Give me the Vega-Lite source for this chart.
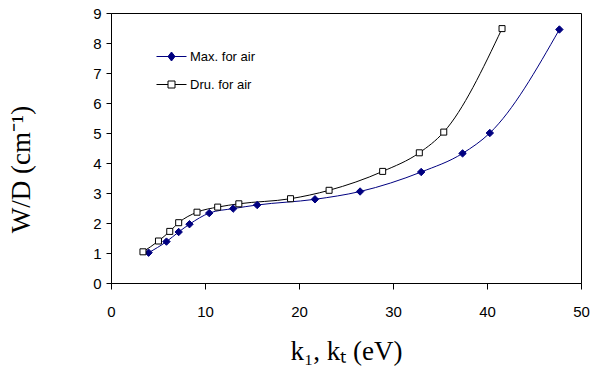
{
  "$schema": "https://vega.github.io/schema/vega-lite/v6.json",
  "width": 470,
  "height": 270,
  "autosize": {"type": "none"},
  "padding": {"left": 111, "top": 13, "right": 15, "bottom": 93},
  "background": "white",
  "config": {
    "view": {"stroke": "#000000", "strokeWidth": 1},
    "axis": {
      "grid": false,
      "domainColor": "#000000",
      "tickColor": "#000000",
      "labelColor": "#000000",
      "titleColor": "#000000",
      "labelFont": "Liberation Sans",
      "labelFontSize": 15,
      "titleFont": "Liberation Serif",
      "titleFontWeight": "normal",
      "labelFlush": false
    }
  },
  "data": {
    "values": [
      {"series": "Max. for air", "k": 4.0, "wd": 1.01},
      {"series": "Max. for air", "k": 5.9, "wd": 1.38},
      {"series": "Max. for air", "k": 7.2, "wd": 1.70},
      {"series": "Max. for air", "k": 8.35, "wd": 1.96},
      {"series": "Max. for air", "k": 10.45, "wd": 2.33},
      {"series": "Max. for air", "k": 13.0, "wd": 2.48},
      {"series": "Max. for air", "k": 15.55, "wd": 2.60},
      {"series": "Max. for air", "k": 21.7, "wd": 2.79},
      {"series": "Max. for air", "k": 26.5, "wd": 3.05},
      {"series": "Max. for air", "k": 33.0, "wd": 3.70},
      {"series": "Max. for air", "k": 37.4, "wd": 4.32},
      {"series": "Max. for air", "k": 40.3, "wd": 5.00},
      {"series": "Max. for air", "k": 47.7, "wd": 8.45},
      {"series": "Dru. for air", "k": 3.4, "wd": 1.04},
      {"series": "Dru. for air", "k": 5.05, "wd": 1.40},
      {"series": "Dru. for air", "k": 6.25, "wd": 1.72},
      {"series": "Dru. for air", "k": 7.2, "wd": 2.01},
      {"series": "Dru. for air", "k": 9.15, "wd": 2.36},
      {"series": "Dru. for air", "k": 11.35, "wd": 2.53},
      {"series": "Dru. for air", "k": 13.6, "wd": 2.64},
      {"series": "Dru. for air", "k": 19.1, "wd": 2.81},
      {"series": "Dru. for air", "k": 23.2, "wd": 3.09},
      {"series": "Dru. for air", "k": 28.9, "wd": 3.72},
      {"series": "Dru. for air", "k": 32.8, "wd": 4.34},
      {"series": "Dru. for air", "k": 35.4, "wd": 5.03},
      {"series": "Dru. for air", "k": 41.6, "wd": 8.48}
    ]
  },
  "encoding": {
    "x": {
      "field": "k",
      "type": "quantitative",
      "scale": {"domain": [0, 50], "nice": false, "zero": false},
      "axis": {
        "values": [0, 10, 20, 30, 40, 50],
        "tickSize": 6,
        "labelPadding": 15,
        "title": "k₁, kₜ (eV)",
        "titleFontSize": 27,
        "titlePadding": 19
      }
    },
    "y": {
      "field": "wd",
      "type": "quantitative",
      "scale": {"domain": [0, 9], "nice": false, "zero": false},
      "axis": {
        "values": [0, 1, 2, 3, 4, 5, 6, 7, 8, 9],
        "tickSize": 5,
        "labelPadding": 5,
        "title": "W/D (cm⁻¹)",
        "titleFontSize": 27,
        "titleX": -76,
        "titleY": 156
      }
    }
  },
  "layer": [
    {
      "mark": {"type": "line", "interpolate": "monotone", "strokeWidth": 1},
      "encoding": {
        "color": {
          "field": "series",
          "type": "nominal",
          "scale": {"domain": ["Max. for air", "Dru. for air"], "range": ["#000080", "#000000"]},
          "legend": {
            "orient": "none",
            "legendX": 50,
            "legendY": 33,
            "title": null,
            "labelFont": "Liberation Sans",
            "labelFontSize": 13,
            "labelColor": "#000000",
            "labelOffset": 8,
            "symbolSize": 400,
            "rowPadding": 10,
            "encode": {
              "symbols": {
                "update": {
                  "shape": {"signal": "datum.value === 'Max. for air' ? 'M-1.5,0H1.5M0,-0.45L0.35,0L0,0.45L-0.35,0Z' : 'M-1.5,0H-0.35M0.35,0H1.5M-0.35,-0.35H0.35V0.35H-0.35Z'"},
                  "fill": {"signal": "datum.value === 'Max. for air' ? '#000080' : '#ffffff'"},
                  "stroke": {"signal": "datum.value === 'Max. for air' ? '#000080' : '#000000'"},
                  "strokeWidth": {"value": 1},
                  "opacity": {"value": 1}
                }
              }
            }
          }
        }
      }
    },
    {
      "transform": [{"filter": "datum.series === 'Max. for air'"}],
      "mark": {"type": "point", "shape": "diamond", "size": 55, "strokeWidth": 1, "opacity": 1, "fill": "#000080", "stroke": "#000080", "filled": true}
    },
    {
      "transform": [{"filter": "datum.series === 'Dru. for air'"}],
      "mark": {"type": "point", "shape": "square", "size": 36, "strokeWidth": 1, "opacity": 1, "fill": "#ffffff", "stroke": "#000000", "filled": true}
    }
  ]
}
